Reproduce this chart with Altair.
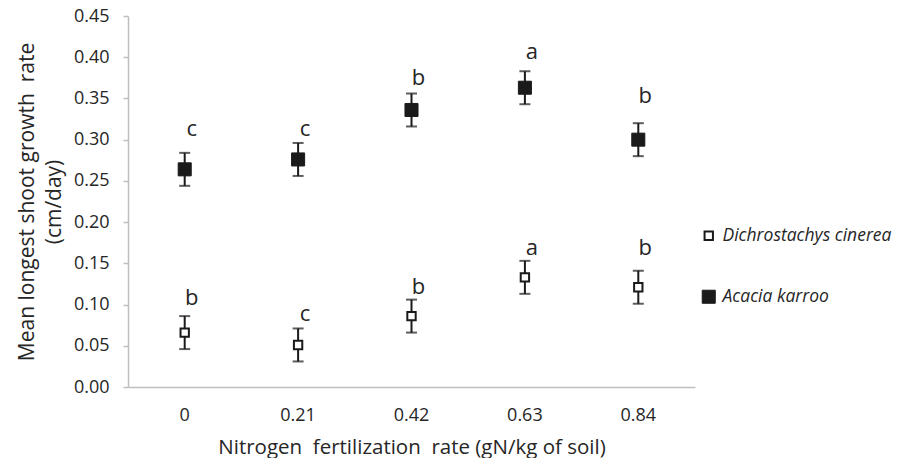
import altair as alt
import pandas as pd

rates = ["0", "0.21", "0.42", "0.63", "0.84"]
species = ["Dichrostachys cinerea", "Acacia karroo"]

dichro_mean = [0.066, 0.051, 0.086, 0.133, 0.121]
dichro_err = [0.020, 0.020, 0.020, 0.020, 0.020]
dichro_letters = ["b", "c", "b", "a", "b"]
dichro_letter_y = [0.108, 0.088, 0.121, 0.168, 0.168]

acacia_mean = [0.264, 0.276, 0.336, 0.363, 0.300]
acacia_err = [0.020, 0.020, 0.020, 0.020, 0.020]
acacia_letters = ["c", "c", "b", "a", "b"]
acacia_letter_y = [0.313, 0.313, 0.375, 0.406, 0.353]

rows = []
for sp, means, errs, letters, ly in [
    (species[0], dichro_mean, dichro_err, dichro_letters, dichro_letter_y),
    (species[1], acacia_mean, acacia_err, acacia_letters, acacia_letter_y),
]:
    for r, m, e, l, y in zip(rates, means, errs, letters, ly):
        rows.append({"rate": r, "species": sp, "mean": m,
                     "lo": m - e, "hi": m + e, "letter": l, "ly": y})
df = pd.DataFrame(rows)

FONT = "Open Sans"
TXT = "#262626"
NB = "\u00a0"

x = alt.X("rate:O", sort=rates,
          axis=alt.Axis(title=f"Nitrogen {NB}fertilization {NB}rate (gN/kg of soil)",
                        labelAngle=0, ticks=False, labelPadding=19,
                        titlePadding=13, domainColor="#bfbfbf",
                        domainWidth=1.5, labelFontSize=18, titleFontSize=20.5,
                        labelColor=TXT, titleColor=TXT, grid=False,
                        titleFontWeight="normal"))
yscale = alt.Scale(domain=[0, 0.45], nice=False)

base = alt.Chart(df)

rules = base.mark_rule(color="#1a1a1a", strokeWidth=2).encode(
    x=x,
    y=alt.Y("lo:Q", scale=yscale,
            axis=alt.Axis(title=[f"Mean longest shoot growth {NB}rate", "(cm/day)"],
                          values=[0, 0.05, 0.1, 0.15, 0.2, 0.25, 0.3, 0.35, 0.4, 0.45],
                          format=".2f", tickSize=5, tickColor="#bfbfbf",
                          tickWidth=1.5, domainColor="#bfbfbf", domainWidth=1.5,
                          labelPadding=14, titlePadding=9, labelFontSize=18,
                          titleFontSize=21, titleLineHeight=27,
                          labelColor=TXT, titleColor=TXT,
                          grid=False, titleFontWeight="normal")),
    y2="hi:Q",
)
caps_lo = base.mark_tick(color="#1a1a1a", thickness=2, size=11,
                         orient="horizontal").encode(x=x, y=alt.Y("lo:Q", scale=yscale))
caps_hi = base.mark_tick(color="#1a1a1a", thickness=2, size=11,
                         orient="horizontal").encode(x=x, y=alt.Y("hi:Q", scale=yscale))

points = base.mark_point(shape="square", opacity=1).encode(
    x=x,
    y=alt.Y("mean:Q", scale=yscale),
    fill=alt.Fill("species:N",
                  scale=alt.Scale(domain=species, range=["white", "#1a1a1a"]),
                  legend=alt.Legend(title=None, orient="none", legendX=572,
                                    legendY=211, labelFont=FONT,
                                    labelFontSize=17.5, labelFontStyle="italic",
                                    labelColor=TXT, rowPadding=42, labelLimit=400,
                                    symbolStrokeWidth=2, labelOffset=5)),
    shape=alt.Shape("species:N",
                    scale=alt.Scale(domain=species, range=["square", "square"])),
    size=alt.Size("species:N",
                  scale=alt.Scale(domain=species, range=[70, 170])),
    stroke=alt.Stroke("species:N",
                      scale=alt.Scale(domain=species, range=["#1a1a1a", "#1a1a1a"])),
    strokeWidth=alt.StrokeWidth("species:N",
                                scale=alt.Scale(domain=species, range=[2, 1])),
)

letters = base.mark_text(font=FONT, fontSize=22, color=TXT, dx=7).encode(
    x=x, y=alt.Y("ly:Q", scale=yscale), text="letter:N")

chart = alt.layer(rules, caps_lo, caps_hi, points, letters).properties(
    width=567, height=371,
    autosize=alt.AutoSizeParams(type="none"),
    padding={"left": 120, "top": 8, "right": 216, "bottom": 71},
).configure(font=FONT).configure_view(stroke=None)

chart.save("out.html", embed_options={"renderer": "svg", "actions": False})
